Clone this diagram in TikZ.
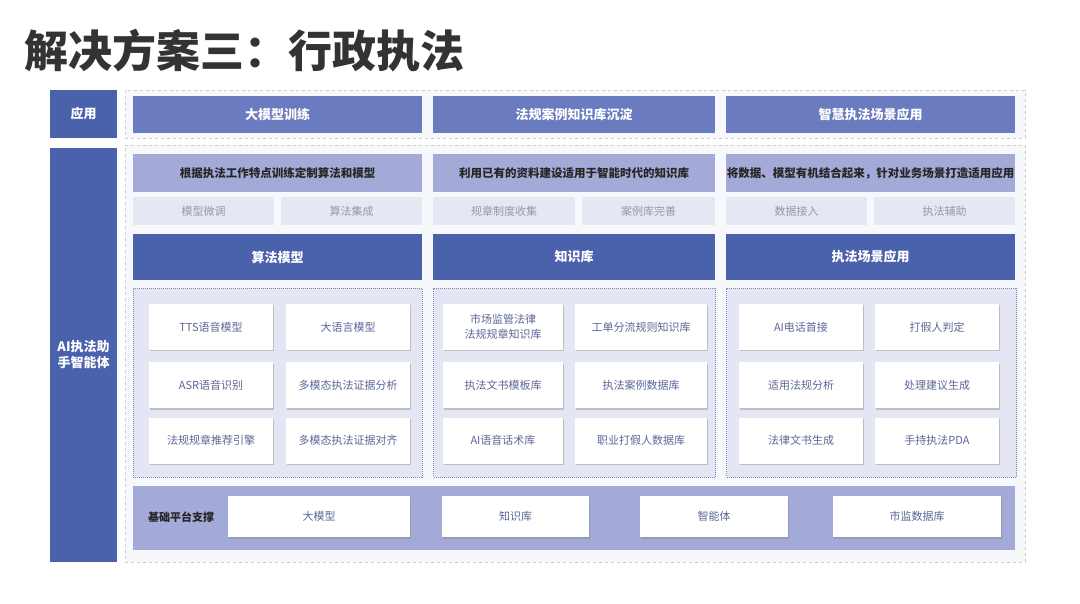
\documentclass[tikz,border=0pt]{standalone}
\usepackage{fontspec}
\setmainfont{Noto Sans CJK SC}
\usepackage{tikz}
\usetikzlibrary{positioning, shadows}

\definecolor{deepblue}{RGB}{74,97,172}
\definecolor{midblue}{RGB}{106,124,191}
\definecolor{lilac}{RGB}{164,170,215}
\definecolor{paleblue}{RGB}{229,231,242}
\definecolor{panelbg}{RGB}{228,230,243}
\definecolor{outerbg}{RGB}{247,248,252}
\definecolor{cardtext}{RGB}{92,102,150}
\definecolor{subtext}{RGB}{150,152,165}
\definecolor{titlegray}{RGB}{51,51,51}

\begin{document}
\begin{tikzpicture}[x=1pt, y=-1pt,
  side/.style={fill=deepblue, text=white, align=center, inner sep=0pt, minimum width=67pt, font=\fontsize{13pt}{16pt}\selectfont\bfseries},
  outer/.style={draw=black!20, dashed, fill=outerbg, minimum width=900pt, inner sep=0pt},
  app/.style={fill=midblue, text=white, minimum height=37pt, inner sep=0pt, font=\fontsize{13pt}{15pt}\selectfont\bfseries},
  desc/.style={fill=lilac, text=black!85, minimum height=38pt, inner sep=0pt, font=\fontsize{11.5pt}{14pt}\selectfont\bfseries},
  sub/.style={fill=paleblue, text=subtext, minimum height=28pt, inner sep=0pt, font=\fontsize{11pt}{13pt}\selectfont},
  head/.style={fill=deepblue, text=white, minimum height=46pt, inner sep=0pt, font=\fontsize{13pt}{15pt}\selectfont\bfseries},
  panel/.style={draw=deepblue!75, dash pattern=on 1pt off 1pt, fill=panelbg, minimum height=189pt, inner sep=0pt},
  card/.style={fill=white, text=cardtext, minimum height=46pt, minimum width=124pt, inner sep=0pt, align=center, font=\fontsize{11pt}{15pt}\selectfont, drop shadow={shadow xshift=1.2pt, shadow yshift=-1.5pt, fill=black!50, opacity=.4}},
  basecard/.style={card, minimum height=41pt},
]
\fill[white] (0,0) rectangle (1080,604);
\useasboundingbox (0,0) rectangle (1080,604);

% Title
\node[anchor=west, inner sep=0pt, text=titlegray, font=\fontsize{44pt}{50pt}\selectfont\bfseries] (title) at (24,51) {解决方案三：行政执法};

% Left labels
\node[side, minimum height=48pt] (app) at (83.5,114) {应用};
\node[side, minimum height=414pt] (agent) at (83.5,355) {AI执法助\\手智能体};

% Outer panels
\node[outer, minimum height=48pt] (toppanel) at (575,114) {};
\node[outer, minimum height=417pt] (mainpanel) at (575,353.5) {};

% Application row
\node[app, minimum width=289pt] (trainapp) at (277.5,114.5) {大模型训练};
\node[app, minimum width=282pt] (kbapp) at (574,114.5) {法规案例知识库沉淀};
\node[app, minimum width=289pt] (sceneapp) at (870.5,114.5) {智慧执法场景应用};

% Descriptions
\node[desc, minimum width=289pt] (algodesc) at (277.5,173) {根据执法工作特点训练定制算法和模型};
\node[desc, minimum width=282pt] (kbdesc) at (574,173) {利用已有的资料建设适用于智能时代的知识库};
\node[desc, minimum width=289pt] (scenedesc) at (870.5,173) {将数据、模型有机结合起来，针对业务场景打造适用应用};

% Sub items
\node[sub, minimum width=141pt] (tune) at (203.5,211) {模型微调};
\node[sub, minimum width=141pt] (integrate) at (351.5,211) {算法集成};
\node[sub, minimum width=142pt] (collect) at (504,211) {规章制度收集};
\node[sub, minimum width=133pt] (cases) at (648.5,211) {案例库完善};
\node[sub, minimum width=141pt] (access) at (796.5,211) {数据接入};
\node[sub, minimum width=141pt] (assist) at (944.5,211) {执法辅助};

% Column headers
\node[head, minimum width=289pt] (algo) at (277.5,257) {算法模型};
\node[head, minimum width=282pt] (kb) at (574,257) {知识库};
\node[head, minimum width=289pt] (scene) at (870.5,257) {执法场景应用};

% Card panels
\node[panel, minimum width=289pt] (algopanel) at (277.5,382.5) {};
\node[panel, minimum width=282pt] (kbpanel) at (574.5,382.5) {};
\node[panel, minimum width=290pt] (scenepanel) at (871.5,382.5) {};

% Algorithm cards
\node[card] (tts) at (211,327) {TTS语音模型};
\node[card] (llm) at (348,327) {大语言模型};
\node[card] (asr) at (211,385) {ASR语音识别};
\node[card] (evana) at (348,385) {多模态执法证据分析};
\node[card] (recom) at (211,440.5) {法规规章推荐引擎};
\node[card] (evalign) at (348,440.5) {多模态执法证据对齐};

% Knowledge cards
\node[card, minimum width=120pt] (lawkb) at (503,327) {市场监管法律\\法规规章知识库};
\node[card, minimum width=132pt] (orderkb) at (641,327) {工单分流规则知识库};
\node[card, minimum width=120pt] (doctpl) at (503,385) {执法文书模板库};
\node[card, minimum width=132pt] (casedb) at (641,385) {执法案例数据库};
\node[card, minimum width=120pt] (speech) at (503,440.5) {AI语音话术库};
\node[card, minimum width=132pt] (fakerdb) at (641,440.5) {职业打假人数据库};

% Scene cards
\node[card] (phone) at (801,327) {AI电话首接};
\node[card] (faker) at (937,327) {打假人判定};
\node[card] (lawana) at (801,385) {适用法规分析};
\node[card] (advice) at (937,385) {处理建议生成};
\node[card] (docgen) at (801,440.5) {法律文书生成};
\node[card] (pda) at (937,440.5) {手持执法PDA};

% Base platform
\node[fill=lilac, minimum width=882pt, minimum height=64pt, inner sep=0pt] (base) at (574,518) {};
\node[text=black!85, inner sep=0pt, font=\fontsize{11pt}{13pt}\selectfont\bfseries] (baselbl) at (181,517) {基础平台支撑};
\node[basecard, minimum width=182pt] (basellm) at (319,516.5) {大模型};
\node[basecard, minimum width=147pt] (basekb) at (515.5,516.5) {知识库};
\node[basecard, minimum width=148pt] (baseagent) at (714,516.5) {智能体};
\node[basecard, minimum width=168pt] (basedb) at (917,516.5) {市监数据库};
\end{tikzpicture}
\end{document}
